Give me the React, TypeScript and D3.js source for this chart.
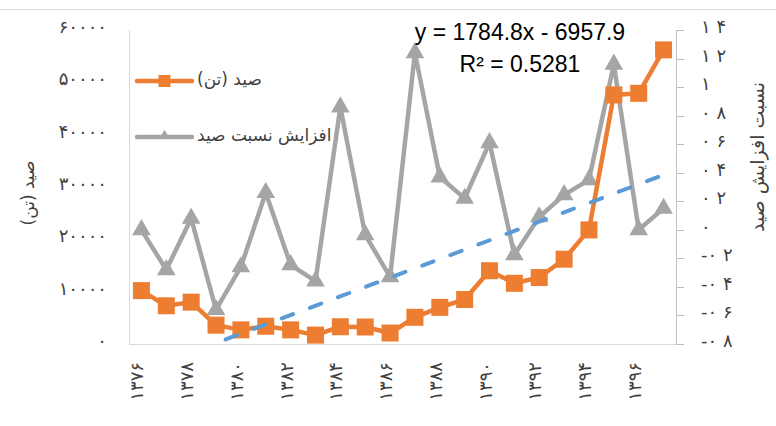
import React from "react";
import * as d3 from "d3";

// years 1376..1397 (solar hijri)
const years = [1376, 1377, 1378, 1379, 1380, 1381, 1382, 1383, 1384, 1385, 1386,
  1387, 1388, 1389, 1390, 1391, 1392, 1393, 1394, 1395, 1396, 1397];

// صید (تن) - catch in tonnes
const catchTon = [10200, 7300, 8000, 3600, 2700, 3400, 2700, 1700, 3300, 3250, 2100,
  5100, 7000, 8500, 14000, 11600, 12700, 16200, 21800, 47600, 47900, 56200];

// افزایش نسبت صید - relative increase
const increaseRatio = [0.0, -0.28, 0.08, -0.56, -0.26, 0.26, -0.245, -0.36, 0.86, -0.035, -0.33,
  1.24, 0.37, 0.22, 0.61, -0.175, 0.09, 0.245, 0.35, 1.16, 0.0, 0.15];

const leftTicks = [0, 10000, 20000, 30000, 40000, 50000, 60000];
const rightTicks = [-0.8, -0.6, -0.4, -0.2, 0, 0.2, 0.4, 0.6, 0.8, 1, 1.2, 1.4];
const labelYears = years.filter((y, i) => i % 2 === 0);

// linear trend on the catch series (x = 1..n)
const trendSlope = 1784.8;
const trendIntercept = -6957.9;
const trendR2 = 0.5281;

const ORANGE = "#ED7D31";
const GRAY = "#A5A5A5";
const BLUE = "#5B9BD5";
const FA_FONT = "'DejaVu Sans', sans-serif";

const faDigits = "۰۱۲۳۴۵۶۷۸۹";
const toFa = (s: string) => s.replace(/[0-9]/g, d => faDigits[+d]);

const W = 776;
const H = 426;
const plot = { left: 129, right: 676, top: 30, bottom: 344 };

export default function App() {
  const x = d3.scaleBand<number>().domain(years).range([plot.left, plot.right]);
  const cx = (yr: number) => (x(yr) as number) + x.bandwidth() / 2;
  const yL = d3.scaleLinear().domain([0, 60000]).range([plot.bottom, plot.top]);
  const yR = d3.scaleLinear().domain([-0.8, 1.4]).range([plot.bottom, plot.top]);

  const orangeLine = d3.line<number>().x((d, i) => cx(years[i])).y(d => yL(d))(catchTon) || "";
  const grayLine = d3.line<number>().x((d, i) => cx(years[i])).y(d => yR(d))(increaseRatio) || "";
  const trendPts = [years[0], years[years.length - 1]].map(yr => {
    const idx = years.indexOf(yr) + 1;
    return [cx(yr), yL(trendSlope * idx + trendIntercept)] as [number, number];
  });
  const trendPath = d3.line()(trendPts) || "";

  const tri = d3.symbol().type(d3.symbolTriangle).size(150)() || "";
  const triSmall = d3.symbol().type(d3.symbolTriangle).size(50)() || "";
  const sq = 17;

  const rightLabel = (v: number) => {
    const r = Math.round(v * 10) / 10;
    return toFa(String(r).replace(".", " "));
  };

  return (
    <svg width={W} height={H} style={{ position: "absolute", left: 0, top: 0, background: "#fff" }}>
      <defs>
        <clipPath id="plotClip">
          <rect x={plot.left} y={plot.top - 20} width={plot.right - plot.left} height={plot.bottom - plot.top + 20} />
        </clipPath>
        <clipPath id="trendClip">
          <rect x={plot.left} y={plot.top} width={plot.right - plot.left} height={plot.bottom - plot.top - 2} />
        </clipPath>
      </defs>
      <rect width={W} height={H} fill="#fff" />
      <line x1={0} x2={W} y1={9.5} y2={9.5} stroke="#d9d9d9" />

      {/* plot frame */}
      <line x1={plot.left + 0.5} x2={plot.left + 0.5} y1={plot.top} y2={plot.bottom} stroke="#d9d9d9" />
      <line x1={plot.left} x2={plot.right} y1={plot.bottom + 0.5} y2={plot.bottom + 0.5} stroke="#d9d9d9" />
      <line x1={plot.right + 0.5} x2={plot.right + 0.5} y1={plot.top} y2={plot.bottom} stroke="#bfbfbf" />
      {rightTicks.map(t => (
        <line key={t} x1={plot.right} x2={plot.right + 8} y1={Math.round(yR(t)) + 0.5} y2={Math.round(yR(t)) + 0.5} stroke="#bfbfbf" />
      ))}

      {/* left axis labels */}
      {leftTicks.map(t => (
        <text key={t} x={107} y={yL(t) - 2} textAnchor="end" dominantBaseline="middle"
          fontFamily={FA_FONT} fontSize={18} letterSpacing={3.5} fill="#404040">
          {toFa(String(t))}
        </text>
      ))}
      {/* right axis labels */}
      {rightTicks.map(t => (
        <text key={t} x={701} y={yR(t) - 2} textAnchor="start" dominantBaseline="middle"
          fontFamily={FA_FONT} fontSize={18} fill="#404040">
          {rightLabel(t)}
        </text>
      ))}
      {/* x labels */}
      {labelYears.map(yr => (
        <text key={yr} transform={`translate(${cx(yr) + 2},${362}) rotate(-90)`} textAnchor="end"
          fontFamily={FA_FONT} fontSize={18} letterSpacing={3.5} fill="#404040">
          {toFa(String(yr))}
        </text>
      ))}

      {/* axis titles */}
      <text transform={`translate(34,193) rotate(-90)`} textAnchor="middle" direction="rtl"
        fontFamily={FA_FONT} fontSize={17} fill="#404040">صید (تن)</text>
      <text transform={`translate(764,157) rotate(-90)`} textAnchor="middle" direction="rtl"
        fontFamily={FA_FONT} fontSize={19} fill="#404040">نسبت افزایش صید</text>

      {/* series */}
      <g clipPath="url(#plotClip)">
        <path d={grayLine} fill="none" stroke={GRAY} strokeWidth={4.5} strokeLinejoin="round" />
        {increaseRatio.map((v, i) => (
          <path key={i} d={tri} transform={`translate(${cx(years[i])},${yR(v)})`} fill={GRAY} />
        ))}
        <path d={orangeLine} fill="none" stroke={ORANGE} strokeWidth={4.5} strokeLinejoin="round" />
        {catchTon.map((v, i) => (
          <rect key={i} x={cx(years[i]) - sq / 2} y={yL(v) - sq / 2} width={sq} height={sq} fill={ORANGE} />
        ))}
      </g>
      <path d={trendPath} clipPath="url(#trendClip)" fill="none" stroke={BLUE} strokeWidth={4}
        strokeDasharray="12 18" strokeLinecap="round" />

      {/* trend label */}
      <text x={520} y={40} textAnchor="middle" fontFamily="'Liberation Sans', Arial, sans-serif" fontSize={23} fill="#000">
        {`y = ${trendSlope}x - ${Math.abs(trendIntercept)}`}
      </text>
      <text x={520} y={72} textAnchor="middle" fontFamily="'Liberation Sans', Arial, sans-serif" fontSize={23} fill="#000">
        {`R² = ${trendR2}`}
      </text>

      {/* legend */}
      <g>
        <line x1={137} x2={192} y1={81} y2={81} stroke={ORANGE} strokeWidth={4.5} strokeLinecap="round" />
        <rect x={164.5 - 6} y={81 - 6} width={12} height={12} fill={ORANGE} />
        <text x={197} y={80} direction="rtl" textAnchor="end" dominantBaseline="middle"
          fontFamily={FA_FONT} fontSize={17} fill="#404040">صید (تن)</text>
        <line x1={137} x2={192} y1={137} y2={137} stroke={GRAY} strokeWidth={4.5} strokeLinecap="round" />
        <path d={triSmall} transform="translate(164.5,136)" fill={GRAY} />
        <text x={197} y={136} direction="rtl" textAnchor="end" dominantBaseline="middle"
          fontFamily={FA_FONT} fontSize={17} fill="#404040">افزایش نسبت صید</text>
      </g>
    </svg>
  );
}
